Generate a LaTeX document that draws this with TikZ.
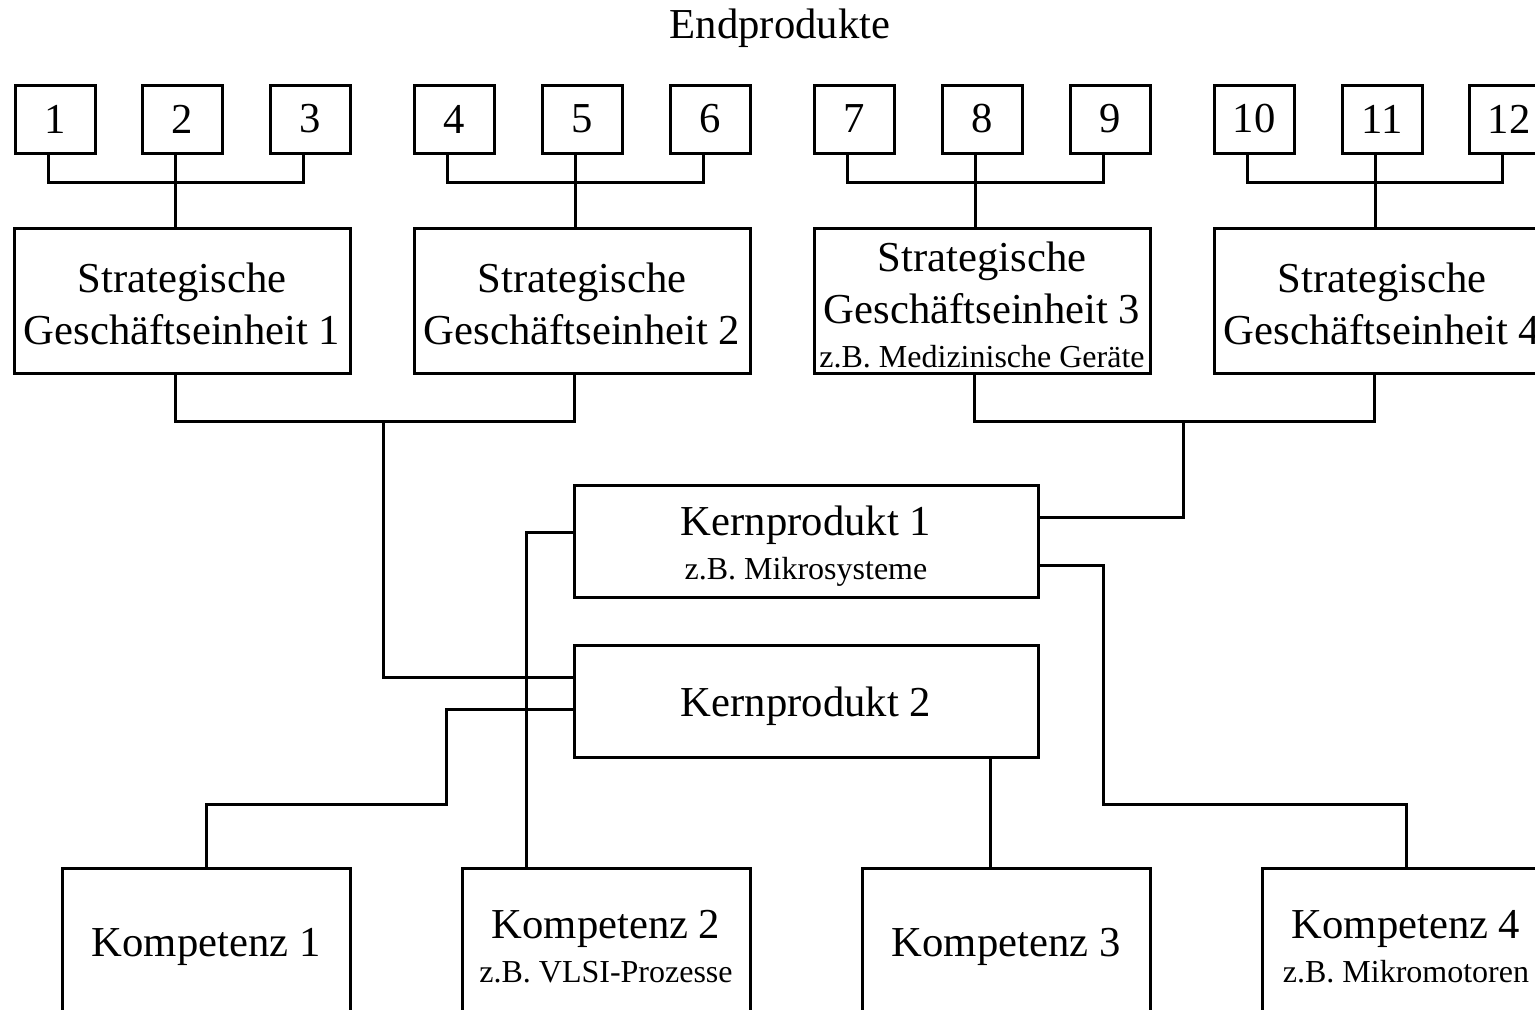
\documentclass[tikz,border=0pt]{standalone}
\usepackage{fontspec}
\setmainfont{Liberation Serif}
\usetikzlibrary{calc}

\newcommand{\bigtxt}{\fontsize{32}{39}\selectfont}
\newcommand{\smalltxt}{\fontsize{24}{29}\selectfont}

\begin{document}
\begin{tikzpicture}[x=0.75pt, y=-0.75pt,
  box/.style={draw, line width=2.25pt, inner sep=0pt},
  numbox/.style={box, minimum width=60pt, minimum height=51pt, font=\bigtxt},
  sgebox/.style={box, minimum width=252pt, minimum height=108.75pt},
  kernbox/.style={box, minimum width=348pt, minimum height=84pt},
  compbox/.style={box, minimum width=216pt, minimum height=112.5pt},
  txt/.style={font=\bigtxt, align=center, inner sep=0pt},
  conn/.style={line width=2.25pt}]

\useasboundingbox (0,0) rectangle (1535,1010);
\clip (0,0) rectangle (1535,1010);

\node[txt] (end) at (780,28) {Endprodukte};

% end products
\foreach \i/\x in {1/55,2/182,3/310,4/454,5/582,6/710,7/854,8/982,9/1110,10/1254,11/1382,12/1509}
  \node[numbox] (n\i) at (\x,119) {\i};

% strategic business units
\node[sgebox] (s1) at (182,300.5) {};
\node[sgebox] (s2) at (582,300.5) {};
\node[sgebox] (s3) at (982,300.5) {};
\node[sgebox] (s4) at (1382,300.5) {};
\node[txt] (s1t) at ($(s1)+(0,3)$) {Strategische\\Geschäftseinheit 1};
\node[txt] (s2t) at ($(s2)+(0,3)$) {Strategische\\Geschäftseinheit 2};
\node[txt] (s3t) at ($(s3)+(0,4)$) {Strategische\\Geschäftseinheit 3\\[-6pt]{\smalltxt z.B. Medizinische Geräte}};
\node[txt] (s4t) at ($(s4)+(0,3)$) {Strategische\\Geschäftseinheit 4};

% core products
\node[kernbox] (k1) at (806,541) {};
\node[kernbox] (k2) at (806,701) {};
\node[txt] (k1t) at ($(k1)+(0,5)$) {Kernprodukt 1\\[-6pt]{\smalltxt z.B. Mikrosysteme}};
\node[txt] (k2t) at ($(k2)+(0,5)$) {Kernprodukt 2};

% competences
\node[compbox] (c1) at (206,943) {};
\node[compbox] (c2) at (606,943) {};
\node[compbox] (c3) at (1006,943) {};
\node[compbox] (c4) at (1406,943) {};
\node[txt] (c1t) at ($(c1)+(0,4)$) {Kompetenz 1};
\node[txt] (c2t) at ($(c2)+(0,4)$) {Kompetenz 2\\[-6pt]{\smalltxt z.B. VLSI-Prozesse}};
\node[txt] (c3t) at ($(c3)+(0,4)$) {Kompetenz 3};
\node[txt] (c4t) at ($(c4)+(0,4)$) {Kompetenz 4\\[-6pt]{\smalltxt z.B. Mikromotoren}};

% product groups to business units
\foreach \a/\b/\c/\s in {1/2/3/1,4/5/6/2,7/8/9/3,10/11/12/4}{
  \draw[conn] ($(n\a.south)+(-7,0)$) -- ++(0,28) -| ($(n\c.south)+(-7,0)$);
  \draw[conn] ($(n\b.south)+(-7,0)$) -- ($(s\s.north)+(-7,0)$);
}

% business units to core products
\coordinate (j1) at (383,420);
\coordinate (j2) at (1183,420);
\draw[conn] ($(s1.south)+(-7,0)$) -- ++(0,47) -| ($(s2.south)+(-8,0)$);
\draw[conn] ($(s3.south)+(-8,0)$) -- ++(0,47) -| ($(s4.south)+(-8,0)$);
\draw[conn] (j1) |- ($(k2.west)+(0,-24)$);
\draw[conn] (j2) |- ($(k1.east)+(0,-24)$);

% core products to competences
\coordinate (b1) at (446,804);
\coordinate (b2) at (1103,804);
\draw[conn] ($(k1.west)+(0,-9)$) -| ($(c2.north)+(-80,0)$);
\draw[conn] ($(k2.west)+(0,8)$) -| (b1) -| (c1.north);
\draw[conn] ($(k2.south)+(184,0)$) -- ($(c3.north)+(-16,0)$);
\draw[conn] ($(k1.east)+(0,24)$) -| (b2) -| (c4.north);

\end{tikzpicture}
\end{document}
